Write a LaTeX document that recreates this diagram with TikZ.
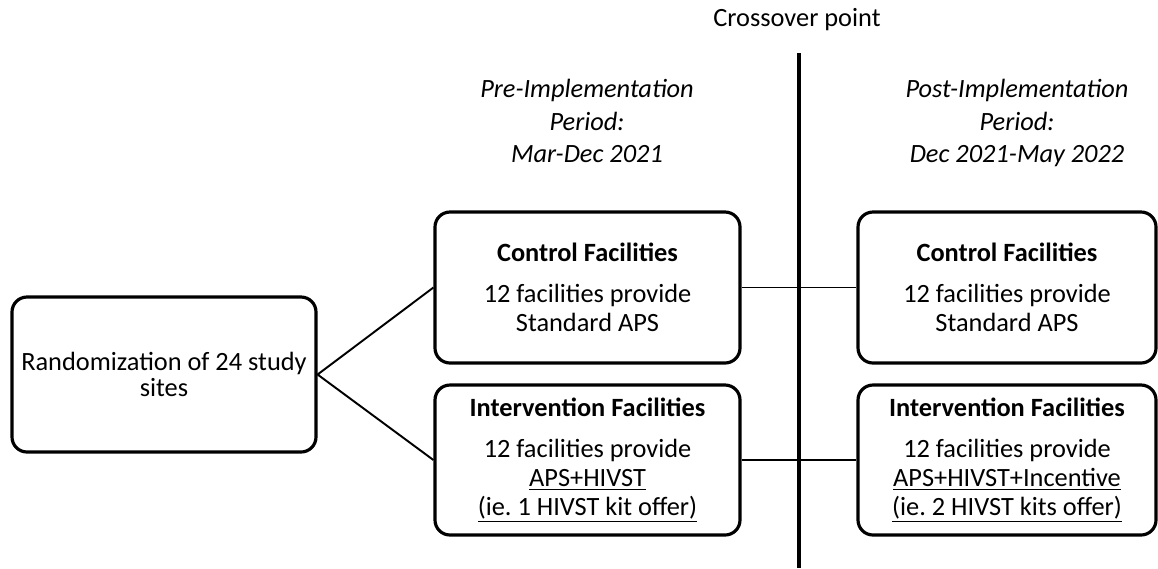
\documentclass[tikz,border=0pt]{standalone}
\usepackage{fontspec}
\setmainfont{Carlito}
\frenchspacing
\tikzset{ box/.style = { draw
                       , rounded corners = 3mm
                       , line width   = 1.8pt
                       , align        = center
                       , inner sep    = 0pt
                       , minimum height = 3.02cm
                       , minimum width  = 6.1cm
                       , font = \fontsize{15}{16.5}\selectfont
                       },
          period/.style = { align = center
                          , font  = \fontsize{15}{18.5}\selectfont\itshape
                          },
          link/.style = { line width = 1.1pt }
        }
\begin{document}
\begin{tikzpicture}
      \useasboundingbox (0,0) rectangle (23.16,-11.36);
      \node[box, minimum width=6.08cm, minimum height=3.1cm,
            font=\fontsize{15}{15}\selectfont] (rand) at (3.28,-7.49)
            {Randomization of 24 study\\sites};
      \node[box] (ctrlpre) at (11.75,-5.75)
            {\textbf{Control Facilities}\\[7pt] 12 facilities provide\\Standard APS};
      \node[box, minimum height=3.0cm] (intpre) at (11.75,-9.2)
            {\textbf{Intervention Facilities}\\[7pt] 12 facilities provide\\
             \underline{APS+HIVST}\\\underline{(ie. 1 HIVST kit offer)}};
      \node[box, minimum width=5.96cm] (ctrlpost) at (20.14,-5.75)
            {\textbf{Control Facilities}\\[7pt] 12 facilities provide\\Standard APS};
      \node[box, minimum width=5.96cm, minimum height=3.0cm] (intpost) at (20.14,-9.2)
            {\textbf{Intervention Facilities}\\[7pt] 12 facilities provide\\
             \underline{APS+HIVST+Incentive}\\\underline{(ie. 2 HIVST kits offer)}};
      % periods
      \node[period] (pre) at (11.74,-2.42)
            {Pre-Implementation\\Period:\\Mar-Dec 2021};
      \node[period] (post) at (20.34,-2.46)
            {Post-Implementation\\Period:\\Dec 2021-May 2022};
      \node[font=\fontsize{15}{18}\selectfont] (cross) at (15.94,-0.4) {Crossover point};
      \coordinate (ctop) at (15.98,-1.06);
      \coordinate (cbot) at (15.98,-11.36);
      \draw[line width=2.2pt] (ctop) -- (cbot);
      \draw[link] (ctrlpre.west) -- (rand.east) -- (intpre.west);
      \draw[link] (ctrlpre.east) -- (ctrlpost.west)
                  (intpre.east)  -- (intpost.west);
\end{tikzpicture}
\end{document}
